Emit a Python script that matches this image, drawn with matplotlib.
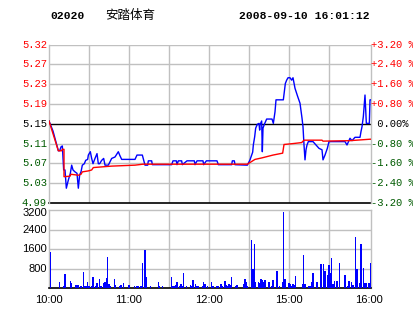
import matplotlib
matplotlib.use('Agg')
import matplotlib.pyplot as plt
from matplotlib import transforms

# quote header
code = '02020'
name = '安踏体育'
stamp = '2008-09-10 16:01:12'
prev_close = 5.15

# price line (trading minute since 10:00, price)
price_t = [0, 3, 5.25, 7, 8, 9, 10, 11, 12, 13, 14.5, 16, 17, 18, 19.5, 21, 22, 23, 24, 25,
           26.5, 27.5, 29, 29.5, 31, 32, 33, 34.5, 36, 37, 38, 39.5, 41, 42, 44.5, 47, 49.5,
           52, 53, 54.5, 64.5, 66, 70, 72, 74, 74.5, 77, 77.5, 92, 93, 95.5, 96, 97, 99.5,
           100, 103.5, 109, 109.5, 111, 115.5, 116, 118, 126, 127, 137, 137.5, 139, 139.5,
           148.75, 150.75, 152.75, 153.25, 154.25, 155, 156.25, 157.5, 158, 158.25, 159.5,
           160, 160.5, 161.5, 163.25, 167.25, 168.25, 169.5, 170.25, 175.75, 176.5, 177.25,
           178.25, 179.25, 180.75, 182, 183, 184.5, 186.5, 188.25, 189.75, 190.5, 191.25,
           192, 192.75, 193.5, 194.5, 198, 200.25, 202.5, 204.75, 205.5, 207, 208.75, 210,
           222, 223.5, 225.75, 227.25, 229.5, 233.25, 234, 234.75, 235.75, 236.5, 237, 238,
           240.25, 240.75, 241.5]
price_v = [5.156, 5.135, 5.112, 5.094, 5.094, 5.102, 5.104, 5.054, 5.054, 5.016, 5.033,
           5.047, 5.064, 5.054, 5.050, 5.047, 5.016, 5.044, 5.050, 5.064, 5.067, 5.074, 5.076,
           5.085, 5.092, 5.078, 5.067, 5.078, 5.088, 5.067, 5.067, 5.074, 5.078, 5.064, 5.064,
           5.078, 5.081, 5.092, 5.085, 5.076, 5.076, 5.085, 5.085, 5.064, 5.064, 5.073, 5.073,
           5.065, 5.065, 5.073, 5.073, 5.065, 5.073, 5.073, 5.065, 5.073, 5.073, 5.065, 5.073,
           5.073, 5.065, 5.073, 5.073, 5.065, 5.065, 5.073, 5.073, 5.065, 5.064, 5.075, 5.091,
           5.106, 5.123, 5.141, 5.149, 5.151, 5.137, 5.148, 5.156, 5.092, 5.141, 5.149, 5.160,
           5.160, 5.151, 5.175, 5.200, 5.200, 5.217, 5.234, 5.241, 5.246, 5.246, 5.241, 5.246,
           5.224, 5.207, 5.193, 5.162, 5.144, 5.106, 5.075, 5.096, 5.106, 5.113, 5.113, 5.106,
           5.099, 5.096, 5.075, 5.085, 5.099, 5.113, 5.113, 5.106, 5.120, 5.115, 5.122, 5.122,
           5.134, 5.144, 5.165, 5.193, 5.210, 5.151, 5.151, 5.200, 5.200]

# average price line
avg_t = [0, 7, 9.5, 10, 11.25, 11.25, 15.75, 16.5, 22, 24, 25, 29.5, 32, 33.25, 47, 64.5,
         70.5, 148.75, 154.5, 159.5, 168, 175.25, 176.25, 183.25, 189.5, 191.25, 204.75,
         205.5, 225.75, 240.75, 241.5]
avg_v = [5.156, 5.094, 5.094, 5.097, 5.097, 5.040, 5.041, 5.045, 5.043, 5.045, 5.050, 5.052,
         5.054, 5.059, 5.062, 5.064, 5.066, 5.066, 5.076, 5.079, 5.085, 5.089, 5.107, 5.109,
         5.111, 5.116, 5.116, 5.114, 5.115, 5.118, 5.118]

# volume bars
vol_t = [1, 8, 11, 12, 16, 17, 20, 21, 22, 24, 26, 27, 28, 29, 30, 32, 33, 35, 36, 38, 39,
         41, 42, 43, 44, 45, 46, 49, 50, 53, 54, 56, 60, 64, 66, 67, 69, 70, 72, 73, 76, 82,
         83, 85, 92, 93, 94, 95, 96, 98, 99, 100, 101, 103, 106, 107, 108, 110, 111, 112, 115,
         116, 117, 119, 122, 123, 126, 127, 129, 130, 132, 133, 134, 135, 136, 137, 140, 141,
         146, 147, 148, 149, 152, 153, 154, 155, 157, 158, 159, 160, 161, 162, 165, 167, 168,
         171, 173, 175, 176, 177, 180, 181, 182, 183, 184, 185, 190, 191, 192, 195, 196, 197,
         198, 201, 204, 206, 207, 209, 210, 211, 212, 213, 214, 216, 218, 222, 224, 225, 227,
         228, 230, 231, 233, 234, 236, 237, 238, 240, 241]
vol_v = [1480, 245, 94, 572, 300, 217, 136, 136, 136, 108, 667, 94, 94, 245, 94, 94, 463, 94,
         217, 380, 94, 217, 272, 421, 1280, 176, 108, 380, 136, 108, 136, 217, 136, 85, 85, 85,
         85, 1035, 1566, 463, 108, 245, 108, 94, 463, 108, 108, 136, 245, 94, 176, 108, 625,
         94, 136, 94, 327, 176, 108, 108, 94, 245, 176, 94, 258, 94, 94, 94, 176, 94, 310, 136,
         94, 176, 136, 463, 94, 136, 176, 380, 258, 94, 1975, 790, 1823, 258, 258, 217, 380,
         340, 258, 340, 258, 94, 340, 708, 94, 258, 3120, 380, 217, 176, 94, 176, 136, 503,
         176, 1375, 176, 94, 94, 258, 626, 258, 993, 993, 708, 545, 952, 626, 1240, 176, 298,
         298, 1035, 545, 94, 298, 258, 136, 2097, 790, 217, 1811, 830, 217, 217, 217, 1035]

time_ticks = [0, 60, 120, 180, 240]
time_labels = ['10:00', '11:00', '12:00', '15:00', '16:00']
pct_levels = [3.2, 2.4, 1.6, 0.8, 0.0, -0.8, -1.6, -2.4, -3.2]
left_labels = ['5.32', '5.27', '5.23', '5.19', '5.15', '5.11', '5.07', '5.03', '4.99']
right_labels = ['+3.20 %', '+2.40 %', '+1.60 %', '+0.80 %', ' 0.00%',
                '-0.80 %', '-1.60 %', '-2.40 %', '-3.20 %']
vol_levels = [800, 1600, 2400, 3200]

grid_c = '#c0c0c0'
green = '#005a00'
mono = 'Liberation Mono'
sans = 'Liberation Sans'

W, H = 414, 314
fig = plt.figure(figsize=(W / 100, H / 100), dpi=100)
fig.patch.set_facecolor('white')

xmax = 241.5
ax = fig.add_axes([49 / W, 1 - 203 / H, 322 / W, 158.3 / H])
av = fig.add_axes([49 / W, 1 - 288.3 / H, 322 / W, 78.3 / H])

'''
price panel
'''
pct = [(p / prev_close - 1) * 100 for p in price_v]
apct = [(p / prev_close - 1) * 100 for p in avg_v]
ax.set_xlim(0, xmax)
ax.set_ylim(-3.2, 3.2)
for lv in pct_levels:
    if lv == 0:
        ax.axhline(lv, color='black', lw=1.0, zorder=2)
    elif lv == -3.2:
        ax.axhline(lv, color='black', lw=1.2, zorder=2, clip_on=False)
    else:
        ax.axhline(lv, color=grid_c, lw=1.0, zorder=1)
for m in range(30, 240, 30):
    ax.axvline(m, color=grid_c, lw=1.0, zorder=1)
ax.plot(price_t, pct, color='#0000ff', lw=1.0, zorder=3)
ax.plot(avg_t, apct, color='#ff0000', lw=1.0, zorder=4)
ax.set_xticks([])
ax.set_yticks([])
for s in ['top', 'bottom']:
    ax.spines[s].set_visible(False)
for s in ['left', 'right']:
    ax.spines[s].set_color(grid_c)
    ax.spines[s].set_linewidth(1.0)

tr = transforms.blended_transform_factory(fig.transFigure, ax.transData)
for lv, lab, rlab in zip(pct_levels, left_labels, right_labels):
    c = 'red' if lv > 0 else ('black' if lv == 0 else green)
    ax.text(47 / W, lv, lab, transform=tr, ha='right', va='center', color=c,
            family=mono, fontsize=7.6)
    ax.text(371 / W, lv, rlab, transform=tr, ha='left', va='center', color=c,
            family=mono, fontsize=7.6, zorder=5)

'''
volume panel
'''
av.set_xlim(0, xmax)
av.set_ylim(0, 3200)
for lv in vol_levels[:-1]:
    av.axhline(lv, color=grid_c, lw=1.0, zorder=1)
for m in range(30, 240, 30):
    av.axvline(m, color=grid_c, lw=1.0, zorder=1)
av.bar(vol_t, vol_v, width=0.8, color='#0000ff', linewidth=0, zorder=3)
av.set_yticks([])
av.set_xticks(time_ticks)
av.set_xticklabels(time_labels, family=sans, fontsize=8)
av.tick_params(axis='x', length=0, pad=5)
av.spines['bottom'].set_color('black')
av.spines['bottom'].set_linewidth(1.2)
for s in ['top', 'left', 'right']:
    av.spines[s].set_color(grid_c)
    av.spines[s].set_linewidth(1.0)

vtr = transforms.blended_transform_factory(fig.transFigure, av.transData)
for lv in vol_levels:
    t = av.text(47 / W, lv, str(lv), transform=vtr, ha='right', va='center',
                family=sans, fontsize=8)
    if lv == 3200:
        t.set_transform(vtr + transforms.ScaledTranslation(0, -3 / 100, fig.dpi_scale_trans))

'''
header
'''
fig.text(50 / W, 1 - 16 / H, code, family=mono, weight='bold', fontsize=8.2,
         ha='left', va='center')
fig.text(105 / W, 1 - 16 / H, name, family=['Noto Sans CJK SC', 'DejaVu Sans'],
         fontsize=9, ha='left', va='center')
fig.text(370 / W, 1 - 16 / H, stamp, family=mono, weight='bold', fontsize=8.2,
         ha='right', va='center')

fig.savefig('out.png', dpi=100, facecolor='white')
plt.close()
